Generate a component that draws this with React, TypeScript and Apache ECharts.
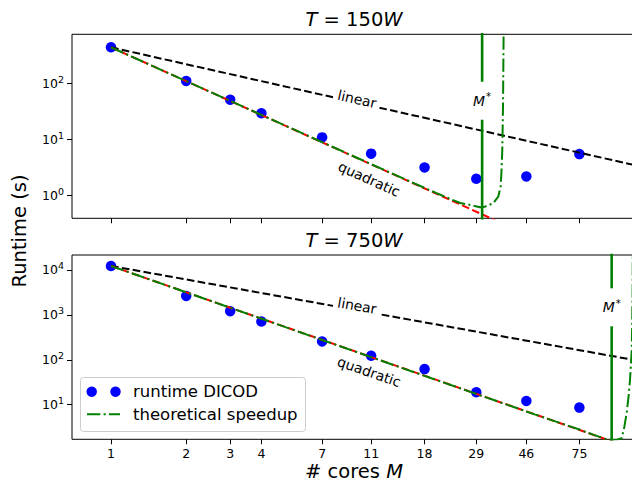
import React, { useEffect, useRef } from 'react';
import * as echarts from 'echarts';

// ---- data ----
const cores = [1, 2, 3, 4, 7, 11, 18, 29, 46, 75];
const coreTicks = [1, 2, 3, 4, 7, 11, 18, 29, 46, 75];

const runtime150 = [437, 110, 51, 29.3, 10.9, 5.6, 3.18, 2.0, 2.2, 5.5];
const runtime750 = [12270, 2640, 1210, 710, 256, 123, 62, 18.9, 12.1, 8.6];

const yTicks150 = [1, 10, 100];
const yTicks750 = [10, 100, 1000, 10000];

const linear150 = [[1, 437], [135, 3.24]];
const quadratic150 = [[1, 437], [40, 0.273]];
const speedup150 = [
  [1, 437], [10, 4.4], [20, 1.12], [25, 0.74], [27.7, 0.68], [30, 0.622], [31.4, 0.637],
  [33.9, 0.733], [35.5, 0.96], [36.3, 1.45], [36.6, 2.87], [36.85, 6.5], [37.1, 40],
  [37.3, 750], [37.35, 2000],
];
const mStar150 = 30.6;

const linear750 = [[1, 12300], [135, 91]];
const quadratic750 = [[1, 12300], [110, 1.3]];
const speedup750 = [
  [1, 12300], [10, 138], [50, 6.0], [75, 2.8], [85, 2.15], [95, 1.75], [101, 1.62],
  [106, 1.65], [110.8, 1.79], [113.5, 3.2], [115.9, 6.4], [118, 15], [119.6, 35.5],
  [121.6, 165], [122.5, 3000], [122.8, 50000],
];
const mStar750 = 101;

const titles = ['150', '750'];

// axis ranges
const xRange = [0.698, 126.4];
const yRange150 = [0.396, 745];
const yRange750 = [1.694, 21580];

const FONT = 'DejaVu Sans';
const lg = Math.log10;
const toLog = (pts: number[][]) => pts.map(([m, t]) => [lg(m), lg(t)]);

const DASH = [7.7, 3.3];
const DASHDOT = [13.3, 3.3, 2.1, 3.3];

function panelSeries(
  gi: number,
  runtime: number[],
  linear: number[][],
  quad: number[][],
  speed: number[][],
  mStar: number,
) {
  const base = { xAxisIndex: gi, yAxisIndex: gi, silent: true, animation: false };
  return [
    {
      ...base,
      type: 'scatter',
      name: 'runtime DICOD',
      data: cores.map((m, i) => [lg(m), lg(runtime[i])]),
      symbol: 'circle',
      symbolSize: 10.5,
      itemStyle: { color: '#0000ff', opacity: 1 },
      z: 2,
    },
    {
      ...base,
      type: 'line',
      name: 'linear',
      data: toLog(linear),
      symbol: 'none',
      clip: true,
      lineStyle: { color: '#000000', width: 2, type: DASH },
      z: 3,
    },
    {
      ...base,
      type: 'line',
      name: 'quadratic',
      data: toLog(quad),
      symbol: 'none',
      clip: true,
      lineStyle: { color: '#ff0000', width: 2, type: DASH },
      z: 3,
    },
    {
      ...base,
      type: 'line',
      name: 'theoretical speedup',
      data: toLog(speed),
      symbol: 'none',
      clip: true,
      lineStyle: { color: '#008000', width: 2, type: DASHDOT },
      z: 4,
    },
    {
      ...base,
      type: 'line',
      name: 'M*',
      data: toLog([[mStar, 1e-3], [mStar, 1e6]]),
      symbol: 'none',
      clip: true,
      lineStyle: { color: '#008000', width: 2.6, type: 'solid' },
      z: 4,
    },
  ];
}

function xAxis(gi: number, showLabels: boolean) {
  const vals = coreTicks.map(lg);
  return {
    type: 'value',
    gridIndex: gi,
    position: 'bottom',
    min: lg(xRange[0]),
    max: lg(xRange[1]),
    axisLine: { show: false, onZero: false },
    splitLine: { show: false },
    axisTick: {
      show: true,
      inside: false,
      length: 5,
      customValues: vals,
      lineStyle: { color: '#000', width: 1 },
    },
    axisLabel: {
      show: showLabels,
      customValues: vals,
      margin: 8,
      fontSize: 12.5,
      fontFamily: FONT,
      color: '#000',
      formatter: (v: number) => String(Math.round(Math.pow(10, v))),
    },
  };
}

function yAxis(gi: number, range: number[], ticks: number[]) {
  const vals = ticks.map(lg);
  return {
    type: 'value',
    gridIndex: gi,
    position: 'left',
    min: lg(range[0]),
    max: lg(range[1]),
    axisLine: { show: false, onZero: false },
    splitLine: { show: false },
    axisTick: {
      show: true,
      inside: false,
      length: 5,
      customValues: vals,
      lineStyle: { color: '#000', width: 1 },
    },
    axisLabel: {
      show: true,
      customValues: vals,
      margin: 8,
      formatter: (v: number) => `{b|10}{s|${Math.round(v)}}`,
      rich: {
        b: { fontSize: 12.5, fontFamily: FONT, color: '#000' },
        s: { fontSize: 9.5, fontFamily: FONT, color: '#000', padding: [0, 0, 8, 0] },
      },
    },
  };
}

export default function App() {
  const ref = useRef<HTMLDivElement>(null);
  useEffect(() => {
    const el = ref.current!;
    const chart = echarts.init(el, null, { renderer: 'svg' });
    const gridCommon = {
      left: 72,
      width: 564,
      show: true,
      borderColor: '#000',
      borderWidth: 1,
      backgroundColor: 'transparent',
      containLabel: false,
      outerBoundsMode: 'none',
    };
    chart.setOption({
      animation: false,
      grid: [
        { ...gridCommon, top: 34.3, height: 184 },
        { ...gridCommon, top: 255, height: 184.3 },
      ],
      xAxis: [xAxis(0, false), xAxis(1, true)],
      yAxis: [yAxis(0, yRange150, yTicks150), yAxis(1, yRange750, yTicks750)],
      series: [
        ...panelSeries(0, runtime150, linear150, quadratic150, speedup150, mStar150),
        ...panelSeries(1, runtime750, linear750, quadratic750, speedup750, mStar750),
      ],
    });

    const px = (gi: number, m: number, t: number) =>
      chart.convertToPixel({ gridIndex: gi } as any, [lg(m), lg(t)]) as number[];
    const angleOf = (gi: number, pts: number[][]) => {
      const a = px(gi, pts[0][0], pts[0][1]);
      const b = px(gi, pts[1][0], pts[1][1]);
      return Math.atan2(-(b[1] - a[1]), b[0] - a[0]);
    };

    const lineLabel = (gi: number, text: string, m: number, t: number, along: number[][], bg: boolean) => {
      const p = px(gi, m, t);
      return {
        type: 'text',
        x: p[0],
        y: p[1],
        rotation: angleOf(gi, along),
        z: 20,
        silent: true,
        style: {
          text,
          fontSize: 13.9,
          fontFamily: FONT,
          fill: '#000',
          align: 'center',
          verticalAlign: 'middle',
          backgroundColor: bg ? '#ffffff' : undefined,
          padding: bg ? [1, 4] : 0,
        },
      };
    };

    const mLabel = (gi: number, m: number, t: number) => {
      const p = px(gi, m, t);
      return {
        type: 'text',
        x: p[0],
        y: p[1],
        z: 20,
        silent: true,
        style: {
          text: '{i|M}{s|*}',
          align: 'center',
          verticalAlign: 'middle',
          backgroundColor: '#ffffff',
          padding: [10, 2],
          rich: {
            i: { fontSize: 13.9, fontFamily: FONT, fontStyle: 'italic', color: '#000' },
            s: { fontSize: 10, fontFamily: FONT, color: '#000', padding: [0, 0, 8, 1] },
          },
        },
      };
    };

    const titleText = (y: number, num: string) => ({
      type: 'text',
      x: 354,
      y,
      z: 20,
      silent: true,
      style: {
        text: `{i|T}{n| = ${num}}{i|W}`,
        align: 'center',
        verticalAlign: 'middle',
        rich: {
          i: { fontSize: 19.5, lineHeight: 21, fontFamily: FONT, fontStyle: 'italic', color: '#000' },
          n: { fontSize: 19.5, lineHeight: 21, fontFamily: FONT, color: '#000' },
        },
      },
    });

    chart.setOption({
      graphic: [
        titleText(19.9, titles[0]),
        titleText(240.7, titles[1]),
        {
          type: 'text',
          x: 19.9,
          y: 231,
          rotation: Math.PI / 2,
          silent: true,
          style: {
            text: 'Runtime (s)',
            fontSize: 19.5,
            fontFamily: FONT,
            fill: '#000',
            align: 'center',
            verticalAlign: 'middle',
          },
        },
        {
          type: 'text',
          x: 354,
          y: 471.5,
          silent: true,
          style: {
            text: '{n|# cores }{i|M}',
            align: 'center',
            verticalAlign: 'middle',
            rich: {
              n: { fontSize: 19.5, lineHeight: 20, fontFamily: FONT, color: '#000' },
              i: { fontSize: 19.5, lineHeight: 20, fontFamily: FONT, fontStyle: 'italic', color: '#000' },
            },
          },
        },
        lineLabel(0, 'linear', 9.66, 52.5, linear150, true),
        lineLabel(0, 'quadratic', 10.8, 1.98, quadratic150, false),
        lineLabel(1, 'linear', 9.66, 1603, linear750, true),
        lineLabel(1, 'quadratic', 10.8, 54.3, quadratic750, false),
        mLabel(0, mStar150, 49),
        mLabel(1, mStar750, 1476),
        // legend
        {
          type: 'group',
          z: 30,
          silent: true,
          children: [
            {
              type: 'rect',
              shape: { x: 80.5, y: 377.5, width: 225, height: 54, r: 3 },
              style: { fill: 'rgba(255,255,255,0.8)', stroke: '#cccccc', lineWidth: 1 },
            },
            { type: 'circle', shape: { cx: 91.7, cy: 391.7, r: 5.2 }, style: { fill: '#0000ff' } },
            { type: 'circle', shape: { cx: 115.5, cy: 391.7, r: 5.2 }, style: { fill: '#0000ff' } },
            {
              type: 'text',
              x: 133,
              y: 391.7,
              style: {
                text: 'runtime DICOD',
                fontSize: 16.5,
                fontFamily: FONT,
                fill: '#000',
                align: 'left',
                verticalAlign: 'middle',
              },
            },
            {
              type: 'line',
              shape: { x1: 87, y1: 414.3, x2: 120, y2: 414.3 },
              style: { stroke: '#008000', lineWidth: 2, lineDash: DASHDOT },
            },
            {
              type: 'text',
              x: 133,
              y: 414.3,
              style: {
                text: 'theoretical speedup',
                fontSize: 16.5,
                fontFamily: FONT,
                fill: '#000',
                align: 'left',
                verticalAlign: 'middle',
              },
            },
          ],
        },
      ],
    });

    return () => chart.dispose();
  }, []);
  return (
    <div
      ref={ref}
      style={{ position: 'fixed', left: 0, top: 0, width: 632, height: 482, background: '#fff' }}
    />
  );
}
